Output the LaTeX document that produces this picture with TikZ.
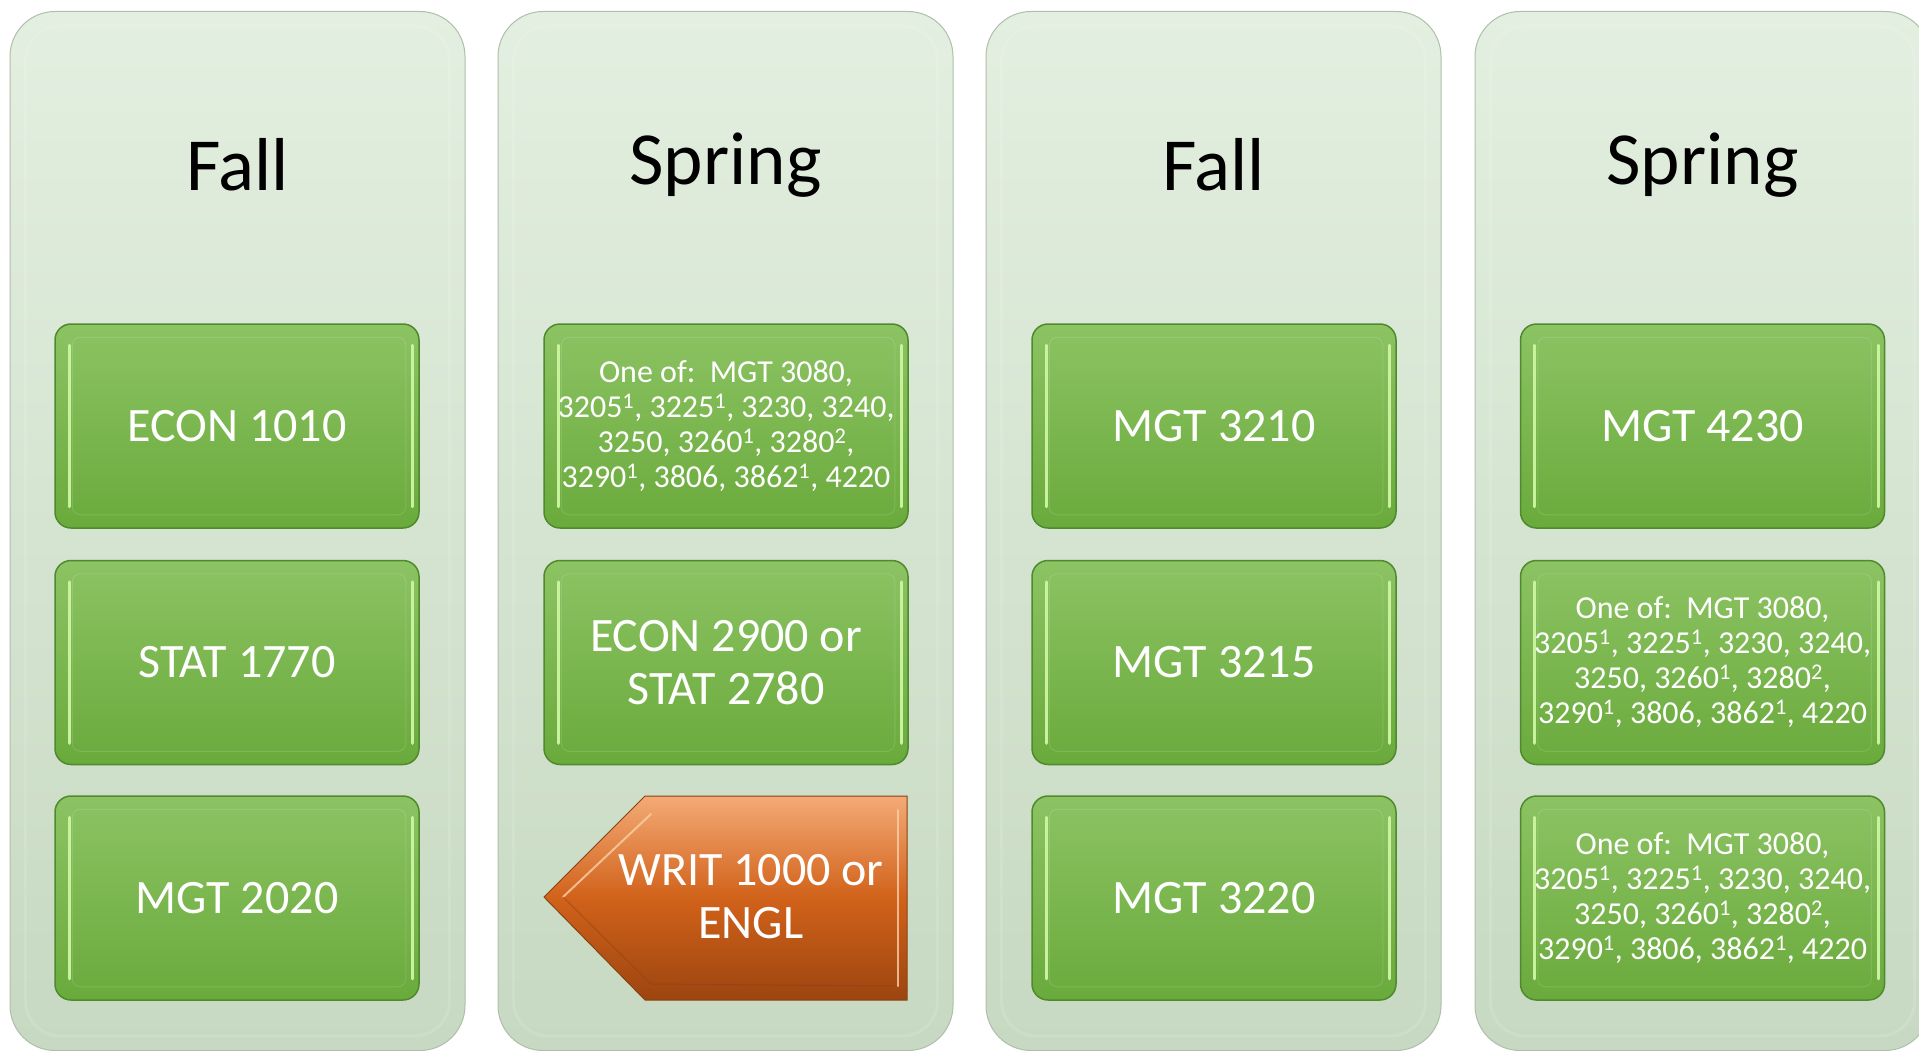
\documentclass[tikz,border=0pt]{standalone}
\usepackage{fontspec}
\setmainfont{Carlito}
\definecolor{colTop}{HTML}{E3EFE0}
\definecolor{colBot}{HTML}{C7D9C2}
\definecolor{colEdge}{HTML}{AFBFAA}
\definecolor{gTop}{HTML}{8CC363}
\definecolor{gBot}{HTML}{6AAA3C}
\definecolor{gEdge}{HTML}{4F8A2C}
\definecolor{gHi}{HTML}{C9F29E}
\definecolor{oTop}{HTML}{F4AA76}
\definecolor{oMid}{HTML}{D1621A}
\definecolor{oBot}{HTML}{9C4510}
\definecolor{oEdge}{HTML}{8A4214}
\definecolor{oHi}{HTML}{FBD0A8}
\tikzset{
  x=1pt, y=-1pt,
  colbox/.style={rectangle, rounded corners=45pt, minimum width=455pt, minimum height=1039pt,
     top color=colTop, bottom color=colBot, draw=colEdge, line width=1pt, inner sep=0pt},
  colhead/.style={font=\fontsize{75}{80}\selectfont, text=black, inner sep=0pt},
  gbox/.style={rectangle, rounded corners=16pt, minimum width=364pt, minimum height=204pt,
     top color=gTop, bottom color=gBot, draw=gEdge, line width=1.5pt, inner sep=0pt,
     text=white, align=center, font=\fontsize{48}{53}\selectfont},
  smalltext/.style={font=\fontsize{32}{35}\selectfont},
  hiline/.style={draw=gHi, line width=3pt, line cap=round},
  ohi/.style={draw=oHi, line width=2pt, line cap=round, opacity=0.8}
}
\newcommand{\su}[1]{\textsuperscript{#1}}
\newcommand{\oneof}{One of:~~MGT 3080,\\3205\su{1}, 3225\su{1}, 3230, 3240,\\3250, 3260\su{1}, 3280\su{2},\\3290\su{1}, 3806, 3862\su{1}, 4220}
\begin{document}
\begin{tikzpicture}
\useasboundingbox (0,0) rectangle (1919,1051);
\begin{scope}
\clip (0,0) rectangle (1919,1051);
% columns
\node[colbox] (c1) at (237.5,531) {};
\node[colbox] (c2) at (725.5,531) {};
\node[colbox] (c3) at (1213.5,531) {};
\node[colbox] (c4) at (1702.5,531) {};
\foreach \cx in {237.5,725.5,1213.5,1702.5}{
  \draw[white, opacity=0.12, line width=3pt, rounded corners=35pt]
    (\cx-212,26) rectangle (\cx+212,1036);
}
% headers
\node[colhead] (h1) at (237.5,165) {Fall};
\node[colhead] (h2) at (725.5,165) {Spring};
\node[colhead] (h3) at (1213.5,165) {Fall};
\node[colhead] (h4) at (1702.5,165) {Spring};

% boxes column 1
\node[gbox] (b11) at (237,426) {ECON 1010};
\node[gbox] (b12) at (237,662.5) {STAT 1770};
\node[gbox] (b13) at (237,898) {MGT 2020};
% column 2
\node[gbox, smalltext] (b21) at (726,426) {\oneof};
\node[gbox] (b22) at (726,662.5) {ECON 2900 or\\STAT 2780};
% column 3
\node[gbox] (b31) at (1214,426) {MGT 3210};
\node[gbox] (b32) at (1214,662.5) {MGT 3215};
\node[gbox] (b33) at (1214,898) {MGT 3220};
% column 4
\node[gbox] (b41) at (1702.5,426) {MGT 4230};
\node[gbox, smalltext] (b42) at (1702.5,662.5) {\oneof};
\node[gbox, smalltext] (b43) at (1702.5,898) {\oneof};

% bevel highlights
\foreach \b in {b11,b12,b13,b21,b22,b31,b32,b33,b41,b42,b43}{
  \draw[hiline] ([shift={(15,22)}]\b.north west) -- ([shift={(15,-22)}]\b.south west);
  \draw[hiline] ([shift={(-7,22)}]\b.north east) -- ([shift={(-7,-22)}]\b.south east);
  \draw[white, opacity=0.12, line width=1pt, rounded corners=8pt]
    ([shift={(18,14)}]\b.north west) rectangle ([shift={(-14,-14)}]\b.south east);
}

% orange pentagon arrow
\shade[top color=oTop, bottom color=oBot, middle color=oMid, draw=oEdge, line width=1pt]
  (544,897) -- (645,796) -- (907,796) -- (907,1000) -- (645,1000) -- cycle;
\draw[ohi] (563,897) -- (651,814);
\draw[ohi] (898,810) -- (898,986);
\draw[oEdge, opacity=0.5, line width=1pt] (563,897) -- (651,984) -- (894,986);
\node[text=white, align=center, font=\fontsize{48}{53}\selectfont, inner sep=0pt] (w) at (751,897) {WRIT 1000 or\\ENGL};
\end{scope}
\end{tikzpicture}
\end{document}
